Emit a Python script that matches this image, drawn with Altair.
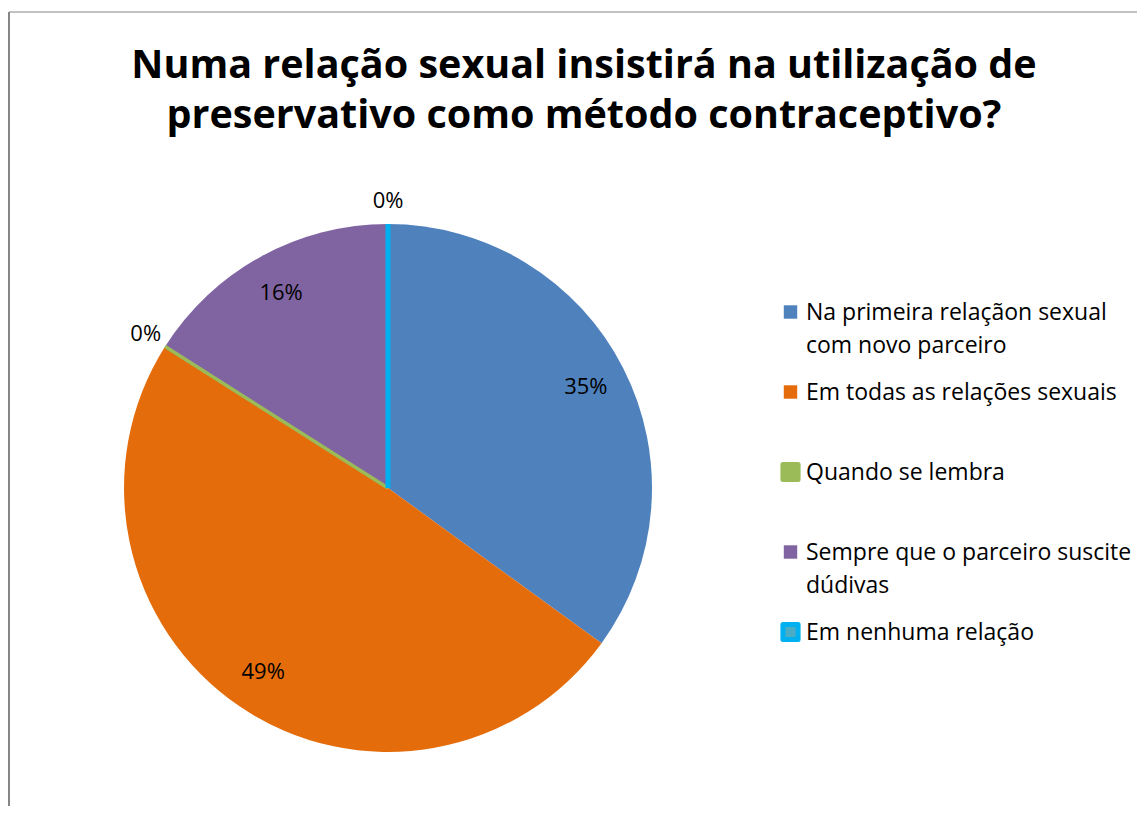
import altair as alt
import pandas as pd

# ---- data ----
CATEGORIES = [
    "Na primeira relaçãon sexual\ncom novo parceiro",
    "Em todas as relações sexuais",
    "Quando se lembra",
    "Sempre que o parceiro suscite\ndúdivas",
    "Em nenhuma relação",
]
VALUES = [35, 49, 0, 16, 0]
COLORS = ["#4F81BD", "#E46C0A", "#9BBB59", "#8064A2", "#00B0F0"]
LEGEND_FILL = ["#4F81BD", "#E46C0A", "#9BBB59", "#8064A2", "#4BACC6"]
TITLE_LINES = [
    "Numa relação sexual insistirá na utilização de",
    "preservativo como método contraceptivo?",
]

df = pd.DataFrame({
    "cat": CATEGORIES,
    "value": VALUES,
    "order": list(range(len(CATEGORIES))),
})

FONT = "Open Sans"
CX, CY, R = 376, 476, 264

theta_scale = alt.Scale(domain=[0, 100], range=[0, 6.283185307179586])
color_scale = alt.Scale(domain=CATEGORIES, range=COLORS)
fill_scale = alt.Scale(domain=CATEGORIES, range=LEGEND_FILL)

base = (
    alt.Chart(df)
    .transform_window(end="sum(value)", sort=[alt.SortField("order")], frame=[None, 0])
    .transform_calculate(
        start="datum.end - datum.value",
        mid="datum.end - datum.value / 2",
        label="datum.value + '%'",
    )
)

pie = base.mark_arc(outerRadius=R, x=CX, y=CY).encode(
    theta=alt.Theta("start:Q", scale=theta_scale),
    theta2=alt.Theta2("end:Q"),
    color=alt.Color("cat:N", scale=color_scale, legend=None),
    order=alt.Order("order:Q"),
)

zero_lines = (
    base.transform_filter("datum.value == 0")
    .mark_arc(outerRadius=R, x=CX, y=CY, strokeCap="round", fillOpacity=0)
    .encode(
        theta=alt.Theta("start:Q", scale=theta_scale),
        theta2=alt.Theta2("end:Q"),
        stroke=alt.Stroke("cat:N", scale=color_scale, legend=None),
        strokeWidth=alt.condition("datum.order == 4", alt.value(5), alt.value(3.5)),
    )
)

labels_in = (
    base.transform_filter("datum.value > 0")
    .mark_text(radius=222, x=CX, y=CY, font=FONT, fontSize=22, color="#000000",
               align="center", baseline="middle")
    .encode(theta=alt.Theta("mid:Q", scale=theta_scale), text="label:N")
)

labels_out = (
    base.transform_filter("datum.value == 0")
    .mark_text(radius=287, x=CX, y=CY, font=FONT, fontSize=22, color="#000000",
               align="center", baseline="middle")
    .encode(theta=alt.Theta("mid:Q", scale=theta_scale), text="label:N")
)

legend_y = alt.Y("order:Q", scale=alt.Scale(domain=[0, 4], range=[300, 620]), axis=None)

legend_sym = base.mark_square(strokeJoin="round", opacity=1).encode(
    x=alt.value(778.5),
    y=legend_y,
    size=alt.condition("datum.value == 0", alt.value(230), alt.value(180)),
    fill=alt.Fill("cat:N", scale=fill_scale, legend=None),
    stroke=alt.Stroke("cat:N", scale=color_scale, legend=None),
    strokeWidth=alt.condition("datum.value == 0", alt.value(5), alt.value(0)),
)

legend_txt = base.mark_text(
    font=FONT, fontSize=23, lineHeight=33, lineBreak="\n", align="left",
    baseline="alphabetic", dy=8, color="#000000",
).encode(
    x=alt.value(794),
    y=legend_y,
    text="cat:N",
)

title_df = pd.DataFrame({"t": ["\n".join(TITLE_LINES)]})
title = alt.Chart(title_df).mark_text(
    font=FONT, fontSize=39.5, fontWeight="bold", lineHeight=50, lineBreak="\n",
    align="center", baseline="alphabetic", color="#000000",
).encode(x=alt.value(572), y=alt.value(66), text="t:N")

frame_df = pd.DataFrame({"k": [0]})
left_border = alt.Chart(frame_df).mark_rule(color="#868686", strokeWidth=2).encode(
    x=alt.value(-3), y=alt.value(0), y2=alt.value(794)
)
top_border = alt.Chart(frame_df).mark_rule(color="#868686", strokeWidth=1.2).encode(
    x=alt.value(-3), x2=alt.value(1125), y=alt.value(0)
)

chart = (
    alt.layer(pie, zero_lines, labels_in, labels_out, legend_sym, legend_txt, title,
              left_border, top_border)
    .resolve_scale(theta="shared")
    .properties(
        width=1125,
        height=794,
        padding={"left": 4, "top": 4, "right": 0, "bottom": 0},
        autosize=alt.AutoSizeParams(type="none"),
        background="#ffffff",
    )
    .configure_view(strokeWidth=0)
)

chart.save("out.html", embed_options={"renderer": "svg", "actions": False})
